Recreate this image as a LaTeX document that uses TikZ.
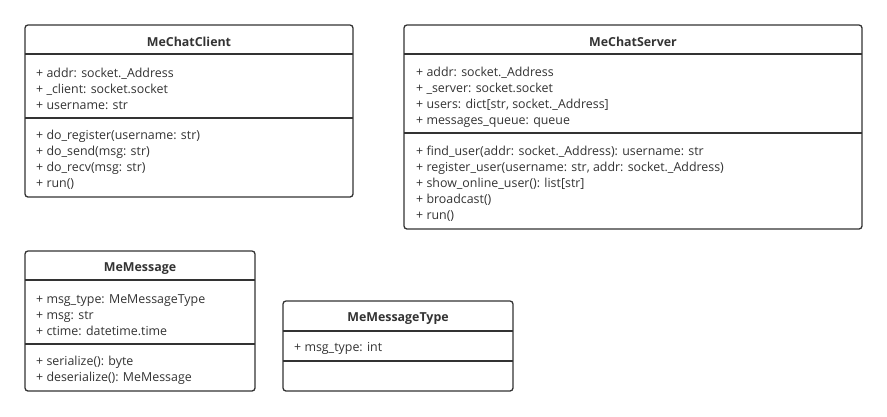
\documentclass[tikz,border=0pt]{standalone}
\usepackage{fontspec}
\setsansfont{Open Sans}
\usetikzlibrary{positioning}
\definecolor{umlline}{HTML}{333333}
\tikzset{
  classbox/.style={draw=umlline, line width=1.3pt, rounded corners=3pt},
  classline/.style={draw=umlline, line width=1.3pt},
  classname/.style={inner sep=0pt, font=\sffamily\bfseries\fontsize{12.4}{16}\selectfont, text=umlline},
  members/.style={inner sep=0pt, anchor=west, align=left, font=\sffamily\fontsize{12.4}{16}\selectfont, text=umlline}
}
\begin{document}
\begin{tikzpicture}[x=1pt,y=-1pt]
	\useasboundingbox (0,0) rectangle (887,416);
	% MeChatClient
	\draw[classbox] (25,25) rectangle (353,197);
	\draw[classline] (25,54) -- (353,54);
	\draw[classline] (25,118) -- (353,118);
	\path (189,41.5) node(client)[classname]{MeChatClient}
		(36,89) node(clientattr)[members]{+ addr: socket.\_Address\\+ \_client: socket.socket\\+ username: str}
		(36,160) node(clientops)[members]{+ do\_register(username: str)\\+ do\_send(msg: str)\\+ do\_recv(msg: str)\\+ run()};
	% MeChatServer
	\draw[classbox] (404,25) rectangle (862,229);
	\draw[classline] (404,54) -- (862,54);
	\draw[classline] (404,133) -- (862,133);
	\path (633,41.5) node(server)[classname]{MeChatServer}
		(416,97) node(serverattr)[members]{+ addr: socket.\_Address\\+ \_server: socket.socket\\+ users: dict[str, socket.\_Address]\\+ messages\_queue: queue}
		(416,183.5) node(serverops)[members]{+ find\_user(addr: socket.\_Address): username: str\\+ register\_user(username: str, addr: socket.\_Address)\\+ show\_online\_user(): list[str]\\+ broadcast()\\+ run()};
	% MeMessage
	\draw[classbox] (25,251) rectangle (255,391);
	\draw[classline] (25,280) -- (255,280);
	\draw[classline] (25,344) -- (255,344);
	\path (140,268.5) node(message)[classname]{MeMessage}
		(36,315) node(messageattr)[members]{+ msg\_type: MeMessageType\\+ msg: str\\+ ctime: datetime.time}
		(36,370) node(messageops)[members]{+ serialize(): byte\\+ deserialize(): MeMessage};
	% MeMessageType
	\draw[classbox] (283,301) rectangle (513,391);
	\draw[classline] (283,331) -- (513,331);
	\draw[classline] (283,361) -- (513,361);
	\path (398,318.5) node(msgtype)[classname]{MeMessageType}
		(294,348) node(msgtypeattr)[members]{+ msg\_type: int};
\end{tikzpicture}
\end{document}
